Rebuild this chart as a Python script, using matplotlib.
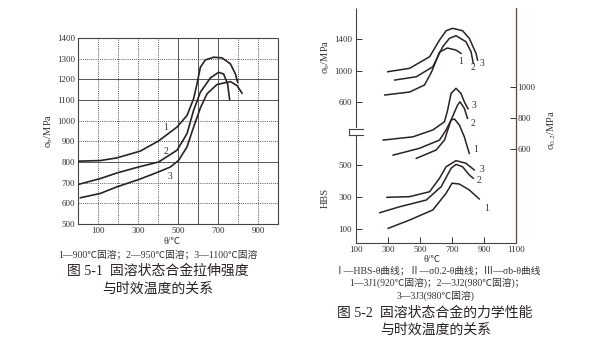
import matplotlib
matplotlib.use('Agg')
import matplotlib.pyplot as plt
from matplotlib.lines import Line2D
from matplotlib.patches import Rectangle

plt.rcParams['font.family'] = ['Liberation Serif', 'Noto Sans CJK SC', 'DejaVu Sans']
plt.rcParams['mathtext.fontset'] = 'stix'

W, H = 613, 355
INK = '#2a2222'
TXT = '#333333'

# ---------------- Fig 5-1 : sigma_b vs aging temperature ----------------
f1_c1_t = [0, 112, 195, 312, 403, 495, 545, 578, 595, 612, 637, 678, 720, 762, 787, 798]
f1_c1_s = [804, 807, 820, 853, 902, 969, 1025, 1106, 1178, 1259, 1294, 1307, 1304, 1275, 1226, 1186]
f1_c2_t = [0, 112, 195, 303, 403, 495, 545, 578, 612, 662, 703, 728, 748, 758]
f1_c2_s = [691, 720, 747, 776, 800, 857, 937, 1050, 1138, 1207, 1234, 1226, 1178, 1103]
f1_c3_t = [12, 112, 195, 303, 403, 462, 503, 545, 578, 612, 645, 695, 762, 795, 820]
f1_c3_s = [627, 648, 680, 715, 752, 776, 808, 873, 969, 1062, 1130, 1175, 1189, 1170, 1133]
f1_labels = ['1', '2', '3']
f1_label_t = [437, 440, 462]
f1_label_s = [966, 849, 728]
f1_xticks = [0, 100, 200, 300, 400, 500, 600, 700, 800, 900, 1000]
f1_xticklabels = ['', '100', '', '300', '', '500', '', '700', '', '900', '']
f1_yticks = [500, 600, 700, 800, 900, 1000, 1100, 1200, 1300, 1400]

# ---------------- Fig 5-2 : HBS, sigma_0.2, sigma_b vs aging temperature ----------------
# sigma_b group (III)
sb1_t = [280, 435, 528, 572, 622, 671, 725, 756]
sb1_v = [689, 727, 816, 981, 1235, 1286, 1260, 1218]
sb2_t = [342, 477, 580, 642, 684, 725, 787, 819, 833]
sb2_v = [879, 921, 1048, 1302, 1409, 1442, 1366, 1239, 1091]
sb3_t = [299, 435, 560, 622, 663, 704, 766, 808, 850, 860]
sb3_v = [985, 1028, 1175, 1387, 1505, 1536, 1505, 1409, 1218, 1133]
sb_label_t = [756, 829, 884]
sb_label_v = [1112, 1040, 1083]
# sigma_0.2 group (II)
s02_1_t = [332, 497, 622, 663, 694, 715, 746, 777, 808]
s02_1_v = [561, 605, 658, 723, 787, 794, 755, 679, 572]
s02_2_t = [477, 601, 653, 694, 735, 750, 777, 797]
s02_2_v = [540, 594, 658, 787, 884, 905, 863, 798]
s02_3_t = [270, 456, 580, 653, 673, 694, 725, 756, 777, 800]
s02_3_v = [658, 679, 723, 776, 852, 959, 992, 959, 905, 860]
s02_label_t = [850, 829, 835]
s02_label_v = [594, 766, 884]
# HBS group (I)
hb1_t = [301, 435, 580, 663, 700, 746, 808, 870]
hb1_v = [104, 156, 219, 323, 386, 381, 344, 288]
hb2_t = [249, 373, 539, 632, 694, 725, 766, 808, 833]
hb2_v = [202, 239, 281, 364, 479, 504, 489, 438, 417]
hb3_t = [294, 435, 560, 622, 663, 725, 787, 839]
hb3_v = [298, 302, 333, 417, 489, 527, 511, 469]
hb_label_t = [918, 870, 887]
hb_label_v = [229, 406, 469]

f2_xticks = [100, 300, 500, 700, 900, 1100]
hb_ticks = [100, 300, 500]
sb_ticks = [600, 1000, 1400]
s02_ticks = [600, 800, 1000]


def rect(l, t, r, b):
    return [l / W, 1 - b / H, (r - l) / W, (b - t) / H]


def fx(px):
    return px / W


def fy(py):
    return 1 - py / H


fig = plt.figure(figsize=(6.13, 3.55), dpi=100)
fig.patch.set_facecolor('white')

# ================= Left chart =================
ax1 = fig.add_axes(rect(78, 38, 278, 224))
ax1.set_xlim(0, 1000)
ax1.set_ylim(500, 1400)
ax1.set_xticks(f1_xticks)
ax1.set_xticklabels(f1_xticklabels)
ax1.set_yticks(f1_yticks)
ax1.set_yticklabels([str(v) for v in f1_yticks])
ax1.tick_params(length=0, labelsize=6.5, colors=TXT, pad=2)
for v in f1_yticks[1:-1]:
    ls = '-' if v in (800, 1100, 1200) else (0, (1, 1.2))
    ax1.axhline(v, color='#555555', lw=0.7, ls=ls, zorder=1)
for v in f1_xticks[1:-1]:
    ls = '-' if v in (500, 600, 700) else (0, (1, 1.2))
    ax1.axvline(v, color='#555555', lw=0.7, ls=ls, zorder=1)
for s in ax1.spines.values():
    s.set_linestyle((0, (1, 1)))
    s.set_linewidth(0.8)
    s.set_color('#444444')
for t, s in ((f1_c1_t, f1_c1_s), (f1_c2_t, f1_c2_s), (f1_c3_t, f1_c3_s)):
    ax1.plot(t, s, color=INK, lw=1.2, zorder=3)
for lab, t, s in zip(f1_labels, f1_label_t, f1_label_s):
    ax1.text(t, s, lab, fontsize=7, color=TXT, ha='center', va='center', zorder=4)

fig.text(fx(49), fy(131), 'σ$_\\mathrm{b}$/MPa', rotation=90, fontsize=7.5, color=TXT,
         ha='center', va='center')
fig.text(fx(172), fy(241), 'θ/℃', fontsize=7, color=TXT, ha='center', va='center')
fig.text(fx(158), fy(255), '1—900℃固溶；2—950℃固溶；3—1100℃固溶', fontsize=7,
         color=TXT, ha='center', va='center')
fig.text(fx(158), fy(271), '图 5-1  固溶状态合金拉伸强度', fontsize=10, color=INK,
         ha='center', va='center')
fig.text(fx(158), fy(289), '与时效温度的关系', fontsize=10, color=INK,
         ha='center', va='center')

# ================= Right chart =================
r_rect = rect(356, 8, 516, 243)
axH = fig.add_axes(r_rect)
axH.set_xlim(100, 1100)
axH.set_ylim(12.5, 1481)
axB = fig.add_axes(r_rect, sharex=axH)
axB.set_ylim(-1190, 1794)
axS = fig.add_axes(r_rect, sharex=axH)
axS.set_ylim(-6, 1510)
for a in (axB, axS):
    a.patch.set_visible(False)

for s in ('top', 'right'):
    axH.spines[s].set_visible(False)
for s in ('left', 'bottom'):
    axH.spines[s].set_linestyle((0, (1, 1)))
    axH.spines[s].set_linewidth(0.8)
    axH.spines[s].set_color('#444444')
for s in axB.spines.values():
    s.set_visible(False)
for s in ('top', 'left', 'bottom'):
    axS.spines[s].set_visible(False)
axS.spines['right'].set_color('#5a4a44')
axS.spines['right'].set_linewidth(0.9)

axH.set_xticks(f2_xticks)
axH.set_xticklabels([str(v) for v in f2_xticks])
axH.set_yticks(hb_ticks)
axH.set_yticklabels([str(v) for v in hb_ticks])
axH.tick_params(direction='in', length=4, width=0.7, labelsize=6.5, colors=TXT, pad=2)
axH.tick_params(axis='y', pad=3)

axB.set_yticks(sb_ticks)
axB.set_yticklabels([str(v) for v in sb_ticks])
axB.tick_params(axis='y', direction='in', length=4, width=0.7, labelsize=6.5, colors=TXT, pad=3)
axB.tick_params(axis='x', bottom=False, labelbottom=False)

axS.yaxis.tick_right()
axS.set_yticks(s02_ticks)
axS.set_yticklabels([str(v) for v in s02_ticks])
axS.tick_params(axis='y', direction='in', length=4, width=0.7, labelsize=6.5, colors=TXT, pad=1)
axS.tick_params(axis='x', bottom=False, labelbottom=False)

for t, v in ((sb1_t, sb1_v), (sb2_t, sb2_v), (sb3_t, sb3_v)):
    axB.plot(t, v, color=INK, lw=1.1)
for t, v in ((s02_1_t, s02_1_v), (s02_2_t, s02_2_v), (s02_3_t, s02_3_v)):
    axS.plot(t, v, color=INK, lw=1.1)
for t, v in ((hb1_t, hb1_v), (hb2_t, hb2_v), (hb3_t, hb3_v)):
    axH.plot(t, v, color=INK, lw=1.1)
for lab, t, v in zip(f1_labels, sb_label_t, sb_label_v):
    axB.text(t, v, lab, fontsize=7, color=TXT, ha='center', va='center')
for lab, t, v in zip(f1_labels, s02_label_t, s02_label_v):
    axS.text(t, v, lab, fontsize=7, color=TXT, ha='center', va='center')
for lab, t, v in zip(f1_labels, hb_label_t, hb_label_v):
    axH.text(t, v, lab, fontsize=7, color=TXT, ha='center', va='center')

# axis break mark on left spine
fig.add_artist(Rectangle((fx(350), fy(135.5)), fx(362) - fx(350), fy(128.5) - fy(135.5),
                         transform=fig.transFigure, facecolor='white', edgecolor='none', zorder=5))
for (x0, y0, x1, y1) in ((349, 129, 363, 129), (349, 135, 363, 135), (349, 129, 349, 135)):
    fig.add_artist(Line2D([fx(x0), fx(x1)], [fy(y0), fy(y1)], transform=fig.transFigure,
                          color='#444444', lw=0.8, zorder=6))

fig.text(fx(326), fy(57), 'σ$_\\mathrm{b}$/MPa', rotation=90, fontsize=7.5, color=TXT,
         ha='center', va='center')
fig.text(fx(325), fy(198), 'HBS', rotation=90, fontsize=7.5, color=TXT,
         ha='center', va='center')
fig.text(fx(552), fy(130), 'σ$_{0.2}$/MPa', rotation=90, fontsize=7.5, color=TXT,
         ha='center', va='center')
fig.text(fx(432), fy(259), 'θ/℃', fontsize=7, color=TXT, ha='center', va='center')
fig.text(fx(438), fy(271), 'Ⅰ—HBS-θ曲线；Ⅱ—σ0.2-θ曲线；Ⅲ—σb-θ曲线',
         fontsize=7, color=TXT, ha='center', va='center')
fig.text(fx(437), fy(283), '1—3J1(920℃固溶)；2—3J2(980℃固溶)；', fontsize=7,
         color=TXT, ha='center', va='center')
fig.text(fx(436), fy(296), '3—3J3(980℃固溶)', fontsize=7, color=TXT,
         ha='center', va='center')
fig.text(fx(435), fy(313), '图 5-2  固溶状态合金的力学性能', fontsize=10, color=INK,
         ha='center', va='center')
fig.text(fx(436), fy(330), '与时效温度的关系', fontsize=10, color=INK,
         ha='center', va='center')

fig.savefig('out.png', dpi=100, facecolor='white')
